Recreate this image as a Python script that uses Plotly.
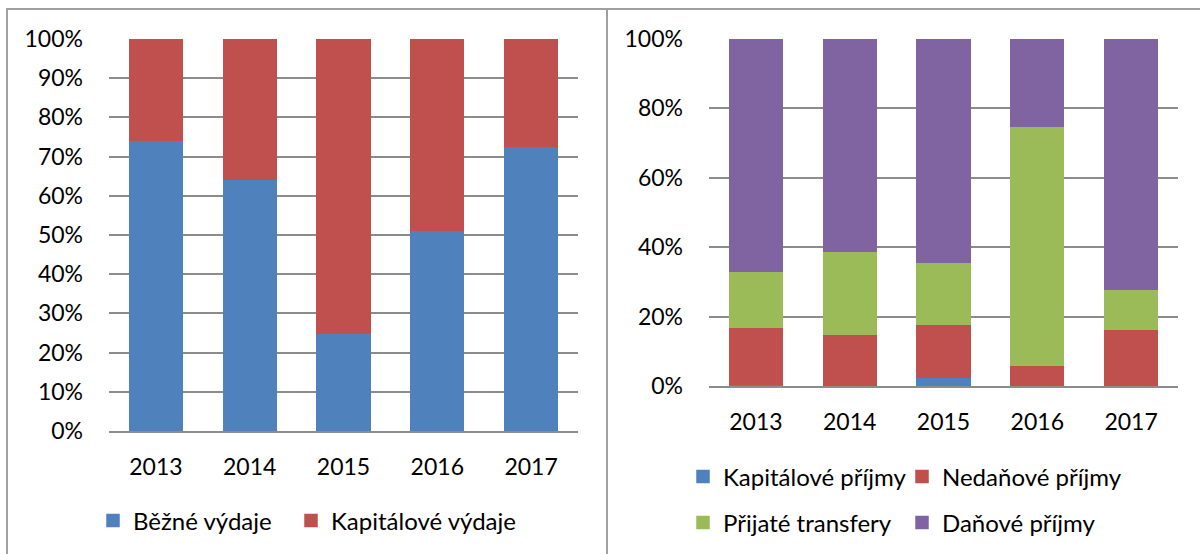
import plotly.graph_objects as go

years = ["2013", "2014", "2015", "2016", "2017"]

# Left chart: share of expenditures (%)
bezne_vydaje = [74.1, 64.1, 25.0, 51.1, 72.7]
kapitalove_vydaje = [25.9, 35.9, 75.0, 48.9, 27.3]

# Right chart: share of revenues (%)
kapitalove_prijmy = [0.6, 0.1, 2.5, 0.1, 0.1]
nedanove_prijmy = [16.2, 14.9, 15.4, 5.9, 16.2]
prijate_transfery = [16.4, 23.8, 17.9, 68.9, 11.6]
danove_prijmy = [66.8, 61.2, 64.2, 25.1, 72.1]

left_ticks = [0, 10, 20, 30, 40, 50, 60, 70, 80, 90, 100]
right_ticks = [0, 20, 40, 60, 80, 100]

BLUE, RED, GREEN, PURPLE = "#4F81BD", "#C0504D", "#9BBB59", "#8064A2"
FONT = "Lato"
W, H = 1200, 554

fig = go.Figure()

def bar(name, vals, color, xa, ya, legend):
    return go.Bar(
        x=years, y=vals, name=name, xaxis=xa, yaxis=ya, legend=legend,
        marker=dict(color=color, line=dict(color=color, width=1.5)),
    )

fig.add_trace(bar("Běžné výdaje", bezne_vydaje, BLUE, "x", "y", "legend"))
fig.add_trace(bar("Kapitálové výdaje", kapitalove_vydaje, RED, "x", "y", "legend2"))

fig.add_trace(bar("Kapitálové příjmy", kapitalove_prijmy, BLUE, "x2", "y2", "legend3"))
fig.add_trace(bar("Nedaňové příjmy", nedanove_prijmy, RED, "x2", "y2", "legend4"))
fig.add_trace(bar("Přijaté transfery", prijate_transfery, GREEN, "x2", "y2", "legend5"))
fig.add_trace(bar("Daňové příjmy", danove_prijmy, PURPLE, "x2", "y2", "legend6"))

def px_x(p):
    return p / W

def px_y(p):
    return 1 - p / H

grid = "#8C8C8C"
TICKFONT = dict(family=FONT, size=23, color="#000")
axis_common = dict(
    showgrid=True, gridcolor=grid, gridwidth=2, zeroline=False,
    tickfont=TICKFONT, showline=False, ticks="", automargin=False,
    fixedrange=True, ticklabelstandoff=25,
)

xcommon = dict(showgrid=False, zeroline=False, showline=True, linecolor=grid, linewidth=2,
               tickfont=TICKFONT, ticks="", automargin=False,
               ticklabelstandoff=14, fixedrange=True)

legend_common = dict(
    orientation="h", font=dict(family=FONT, size=24, color="#000"),
    bgcolor="rgba(0,0,0,0)", borderwidth=0, xanchor="left", yanchor="middle",
    itemclick=False, itemdoubleclick=False,
)

fig.update_layout(
    width=W, height=H,
    margin=dict(l=0, r=0, t=0, b=0, pad=0),
    paper_bgcolor="white", plot_bgcolor="white",
    barmode="stack", bargap=0.44,
    font=dict(family=FONT, size=22, color="#000"),
    xaxis=dict(domain=[px_x(109), px_x(578)], anchor="y", **xcommon),
    yaxis=dict(domain=[px_y(431), px_y(39)], anchor="x", range=[0, 100],
               tickvals=left_ticks, ticktext=[f"{v}%" for v in left_ticks],
               **axis_common),
    xaxis2=dict(domain=[px_x(709), px_x(1178)], anchor="y2", **xcommon),
    yaxis2=dict(domain=[px_y(386), px_y(39)], anchor="x2", range=[0, 100],
                tickvals=right_ticks, ticktext=[f"{v}%" for v in right_ticks],
                **axis_common),
    legend=dict(x=px_x(93), y=px_y(521), **legend_common),
    legend2=dict(x=px_x(291), y=px_y(521), **legend_common),
    legend3=dict(x=px_x(683), y=px_y(477), **legend_common),
    legend4=dict(x=px_x(902), y=px_y(477), **legend_common),
    legend5=dict(x=px_x(683), y=px_y(523), **legend_common),
    legend6=dict(x=px_x(902), y=px_y(523), **legend_common),
    showlegend=True,
    shapes=[
        dict(type="rect", xref="paper", yref="paper", x0=px_x(7), x1=px_x(607),
             y0=-0.05, y1=px_y(9), line=dict(color="#A0A0A0", width=2), layer="below"),
        dict(type="line", xref="paper", yref="paper", x0=px_x(607), x1=1.01,
             y0=px_y(9), y1=px_y(9), line=dict(color="#A0A0A0", width=2), layer="below"),
    ],
)

fig.write_html("out.html", config={"displayModeBar": False},
               post_script="document.body.style.margin='0';")
